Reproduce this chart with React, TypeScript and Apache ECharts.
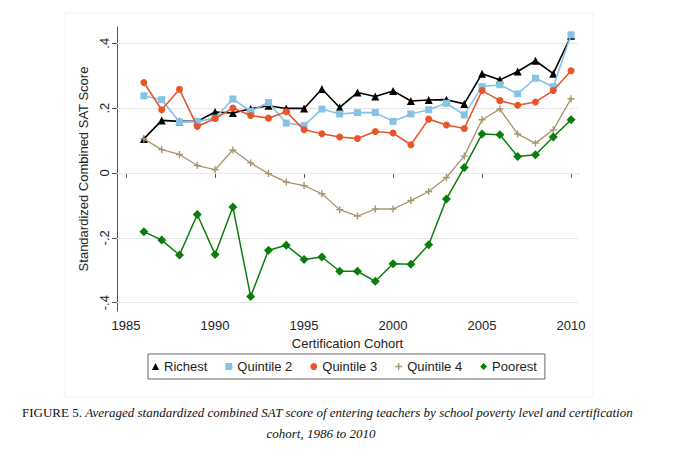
import React, { useEffect, useRef } from "react";
import * as echarts from "echarts";

const years = [1986, 1987, 1988, 1989, 1990, 1991, 1992, 1993, 1994, 1995, 1996, 1997, 1998, 1999, 2000, 2001, 2002, 2003, 2004, 2005, 2006, 2007, 2008, 2009, 2010];
const richest = [0.105, 0.162, 0.159, 0.159, 0.188, 0.185, 0.198, 0.207, 0.199, 0.199, 0.259, 0.202, 0.248, 0.236, 0.253, 0.222, 0.225, 0.226, 0.213, 0.306, 0.287, 0.313, 0.346, 0.306, 0.423];
const quintile2 = [0.238, 0.226, 0.157, 0.159, 0.169, 0.228, 0.19, 0.217, 0.154, 0.146, 0.197, 0.182, 0.186, 0.186, 0.159, 0.182, 0.195, 0.215, 0.179, 0.266, 0.272, 0.244, 0.292, 0.266, 0.426];
const quintile3 = [0.279, 0.195, 0.258, 0.143, 0.168, 0.2, 0.177, 0.169, 0.189, 0.133, 0.121, 0.111, 0.106, 0.128, 0.123, 0.087, 0.166, 0.148, 0.137, 0.254, 0.223, 0.209, 0.219, 0.254, 0.315];
const quintile4 = [0.105, 0.072, 0.057, 0.023, 0.01, 0.071, 0.031, -0.002, -0.028, -0.039, -0.064, -0.113, -0.133, -0.111, -0.111, -0.085, -0.057, -0.014, 0.052, 0.164, 0.197, 0.12, 0.092, 0.133, 0.229];
const poorest = [-0.181, -0.207, -0.253, -0.128, -0.251, -0.105, -0.381, -0.238, -0.223, -0.267, -0.259, -0.303, -0.303, -0.334, -0.28, -0.281, -0.221, -0.08, 0.017, 0.12, 0.118, 0.051, 0.056, 0.111, 0.164];

const seriesNames = ["Richest", "Quintile 2", "Quintile 3", "Quintile 4", "Poorest"];
const xTicks = [1985, 1990, 1995, 2000, 2005, 2010];
const yTicks = [-0.4, -0.2, 0, 0.2, 0.4];
const yTickLabels = ["-.4", "-.2", "0", ".2", ".4"];

const PLUS = "path://M4,0H6V4H10V6H6V10H4V6H0V4H4Z";

export default function App() {
  const ref = useRef<HTMLDivElement>(null);
  useEffect(() => {
    document.body.style.margin = "0";
    const chart = echarts.init(ref.current!, undefined, { renderer: "svg" });
    const font = "Liberation Sans";
    const colors = ["#000000", "#86c2e6", "#e9552a", "#a8966a", "#0a7d0a"];
    const symbols = ["triangle", "rect", "circle", PLUS, "diamond"];
    const sizes = [8, 7, 7, 7, 9];
    const widths = [1.6, 1.6, 1.6, 1.3, 1.5];
    const datas = [richest, quintile2, quintile3, quintile4, poorest];
    const series: any[] = seriesNames.map((name, i) => ({
      name,
      type: "line",
      data: years.map((y, j) => [y, datas[i][j]]),
      symbol: symbols[i],
      symbolSize: sizes[i],
      showAllSymbol: true,
      lineStyle: { color: colors[i], width: widths[i] },
      itemStyle: { color: colors[i] },
      z: 3 + i,
    }));
    series[0].markLine = {
      silent: true,
      symbol: "none",
      label: { show: false },
      lineStyle: { color: "#e6e6e6", width: 1, type: "solid" },
      data: yTicks.map((v) => ({ yAxis: v })),
      z: 1,
    };
    chart.setOption({
      animation: false,
      backgroundColor: "#ffffff",
      grid: { left: 117, right: 106, top: 27, bottom: 163 },
      xAxis: {
        type: "value",
        min: 1984.49,
        max: 2010.39,
        name: "Certification Cohort",
        nameLocation: "middle",
        nameGap: 26,
        nameTextStyle: { fontFamily: font, fontSize: 13, color: "#222" },
        axisLine: { lineStyle: { color: "#555", width: 1 } },
        axisTick: { customValues: xTicks, length: 5, lineStyle: { color: "#555" } },
        axisLabel: {
          customValues: xTicks,
          fontFamily: font,
          fontSize: 13,
          color: "#222",
          margin: 8,
          formatter: (v: number) => String(Math.round(v)),
        },
        splitLine: { show: false },
      },
      yAxis: {
        type: "value",
        min: -0.4255,
        max: 0.45,
        name: "Standardized Combined SAT Score",
        nameLocation: "middle",
        nameRotate: 90,
        nameGap: 26,
        nameTextStyle: { fontFamily: font, fontSize: 13, color: "#222" },
        axisLine: { show: true, lineStyle: { color: "#555", width: 1 } },
        axisTick: { show: true, customValues: yTicks, length: 5, lineStyle: { color: "#555" } },
        axisLabel: {
          customValues: yTicks,
          rotate: 90,
          fontFamily: font,
          fontSize: 13,
          color: "#222",
          margin: 6,
          formatter: (v: number) => {
            const idx = yTicks.findIndex((t) => Math.abs(t - v) < 1e-6);
            return idx >= 0 ? yTickLabels[idx] : "";
          },
        },
        splitLine: { show: false },
      },
      legend: {
        left: 148,
        top: 354,
        orient: "horizontal",
        padding: [6, 8, 6, 4],
        itemGap: 18,
        itemWidth: 7,
        itemHeight: 7,
        borderColor: "#666",
        borderWidth: 1,
        textStyle: { fontFamily: font, fontSize: 13, color: "#222" },
        data: seriesNames.map((n, i) => ({ name: n, icon: symbols[i] })),
      },
      graphic: [
        {
          type: "rect",
          shape: { x: 65, y: 13, width: 528, height: 384 },
          style: { fill: "none", stroke: "#f0f0f0", lineWidth: 1 },
          silent: true,
          z: -1,
        },
        {
          type: "text",
          x: 22,
          y: 412,
          style: {
            text: "{a|FIGURE 5. }{b|Averaged standardized combined SAT score of entering teachers by school poverty level and certification}",
            verticalAlign: "middle",
            align: "left",
            rich: {
              a: { fontFamily: "Liberation Serif", fontSize: 13, fill: "#111" },
              b: { fontFamily: "Liberation Serif", fontSize: 13, fontStyle: "italic", fill: "#111" },
            },
          },
        },
        {
          type: "text",
          x: 321,
          y: 433,
          style: {
            text: "cohort, 1986 to 2010",
            fontFamily: "Liberation Serif",
            fontSize: 13,
            fontStyle: "italic",
            fill: "#111",
            align: "center",
            verticalAlign: "middle",
          },
        },
      ],
      series,
    });
    return () => chart.dispose();
  }, []);
  return <div ref={ref} style={{ position: "absolute", left: 0, top: 0, width: 684, height: 474 }} />;
}
